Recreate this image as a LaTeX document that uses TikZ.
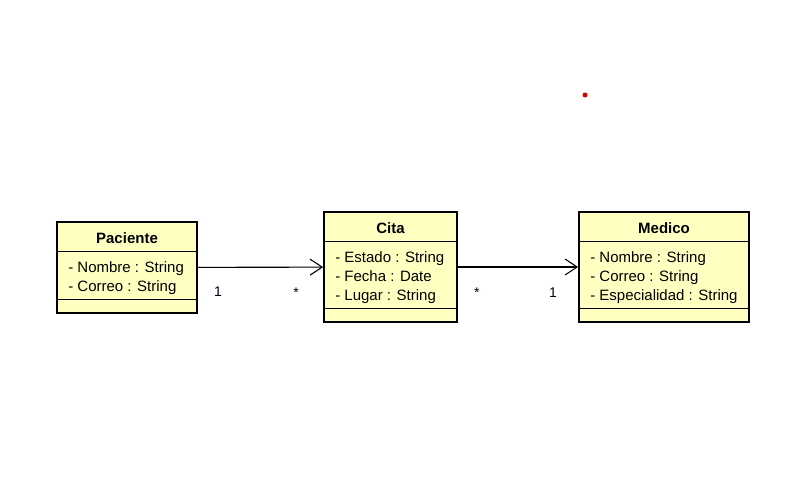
\documentclass[tikz,border=0pt]{standalone}
\usepackage{fontspec}
\setmainfont{Liberation Sans}
\usetikzlibrary{arrows.meta}

\definecolor{classfill}{RGB}{255,255,194}
\tikzset{
  classbox/.style={draw, line width=1.8pt, fill=classfill, inner sep=0pt},
  classname/.style={font=\fontsize{15}{17}\selectfont\bfseries, anchor=base, inner sep=0pt},
  attr/.style={font=\fontsize{15}{17}\selectfont, anchor=base west, inner sep=0pt},
  sep/.style={line width=0.9pt},
  assoc/.style={line width=1.1pt, -{Straight Barb[length=12pt,width=16pt,line width=1.1pt]}},
  mult/.style={font=\fontsize{14}{16}\selectfont, anchor=base, inner sep=0pt, text=black!90!blue}
}

\begin{document}
\begin{tikzpicture}[x=1pt, y=-1pt]
	\useasboundingbox (0,0) rectangle (787,483);

	% classes
	\node[classbox, minimum width=140pt, minimum height=91pt] (pac) at (127,267.5) {};
	\node[classbox, minimum width=133pt, minimum height=110pt] (cita) at (390.5,267) {};
	\node[classbox, minimum width=170pt, minimum height=110pt] (med) at (664,267) {};

	\foreach \c in {pac,cita,med}{
			\draw[sep] ([yshift=-30pt]\c.north west) -- ([yshift=-30pt]\c.north east);
			\draw[sep] ([yshift=14pt]\c.south west) -- ([yshift=14pt]\c.south east);
		}

	\node[classname] (pac-t) at ([yshift=-22pt]pac.north) {Paciente};
	\node[classname] (cita-t) at ([yshift=-22pt]cita.north) {Cita};
	\node[classname] (med-t) at ([yshift=-22pt]med.north) {Medico};

	% attributes
	\foreach \a [count=\i] in {Nombre : String, Correo : String}{
			\node[attr] (pac-a\i) at ([shift={(12,{32+19*\i})}]pac.north west) {- \a};
		}
	\foreach \a [count=\i] in {Estado : String, Fecha : Date, Lugar : String}{
			\node[attr] (cita-a\i) at ([shift={(12,{32+19*\i})}]cita.north west) {- \a};
		}
	\foreach \a [count=\i] in {Nombre : String, Correo : String, Especialidad : String}{
			\node[attr] (med-a\i) at ([shift={(12,{32+19*\i})}]med.north west) {- \a};
		}

	% associations
	\draw[assoc] (pac) -- (cita);
	\draw[assoc] (cita) -- (med);

	\node[mult] (m-pac) at ([shift={(20,29)}]pac.east) {1};
	\node[mult] (m-cita1) at ([shift={(-27,30)}]cita.west) {*};
	\node[mult] (m-cita2) at ([shift={(19,30)}]cita.east) {*};
	\node[mult] (m-med) at ([shift={(-25,30)}]med.west) {1};

	\fill[red!85!black] (585,95) circle (2.5pt);
\end{tikzpicture}
\end{document}
